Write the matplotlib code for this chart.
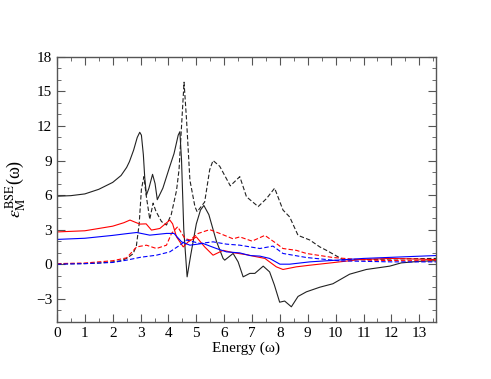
import matplotlib
matplotlib.use("Agg")
import matplotlib.pyplot as plt
from matplotlib.ticker import MultipleLocator

plt.rcParams['font.family'] = ['Liberation Serif', 'DejaVu Serif']
plt.rcParams['mathtext.fontset'] = 'stix'

# black solid: real part
x_re_k = [0, 0.5, 1, 1.5, 2, 2.3, 2.5, 2.6, 2.75, 2.88, 2.97, 3.03, 3.1, 3.15, 3.21, 3.3, 3.43, 3.52, 3.6,
          3.8, 4.05, 4.2, 4.35, 4.41, 4.47, 4.55, 4.67, 4.8, 5.0, 5.15, 5.27, 5.45, 5.72, 5.96, 6.02, 6.32,
          6.5, 6.68, 6.92, 7.1, 7.4, 7.63, 7.8, 7.99, 8.17, 8.41, 8.65, 8.95, 9.43, 9.9, 10.5,
          11.1, 11.94, 12.35, 13.0, 13.6]
y_re_k = [5.9, 5.95, 6.1, 6.5, 7.1, 7.7, 8.4, 8.9, 9.9, 11.0, 11.45, 11.2, 9.5, 7.5, 6.0, 6.6, 7.8, 7.0, 5.6,
          6.6, 8.5, 9.6, 11.2, 11.5, 9.0, 3.0, -1.1, 0.8, 3.5, 4.7, 5.1, 4.3, 2.0, 0.5, 0.35, 0.93,
          0.2, -1.1, -0.8, -0.8, -0.17, -0.67, -1.8, -3.3, -3.2, -3.7, -2.8, -2.4, -2.0, -1.7, -0.87,
          -0.46, -0.17, 0.11, 0.25, 0.3]

# black dashed: imaginary part
x_im_k = [0, 1, 1.5, 2, 2.3, 2.5, 2.73, 2.85, 2.95, 3.03, 3.12, 3.2, 3.33, 3.45, 3.55, 3.75,
          3.93, 4.1, 4.29, 4.38, 4.47, 4.56, 4.65, 4.77, 4.95, 5.03, 5.3, 5.48, 5.6, 5.84, 6.22,
          6.56, 6.8, 7.22, 7.52, 7.81, 8.11, 8.35, 8.65, 9.07, 9.43, 9.67, 10.26, 11.0, 12.0, 13.6]
y_im_k = [0.02, 0.05, 0.1, 0.2, 0.3, 0.5, 0.9, 1.6, 3.5, 6.5, 7.6, 6.0, 3.9, 5.3, 4.6, 3.7,
          3.4, 4.3, 6.4, 8.2, 12.0, 15.8, 12.5, 7.3, 5.0, 4.55, 5.4, 8.2, 9.0, 8.5, 6.8,
          7.6, 5.85, 5.0, 5.7, 6.6, 4.7, 4.1, 2.5, 2.1, 1.5, 1.2, 0.4, 0.4, 0.45, 0.5]

# red solid
x_re_r = [0, 1, 2, 2.4, 2.62, 2.97, 3.2, 3.39, 3.69, 4.05, 4.15, 4.29, 4.53, 4.71, 5.0, 5.3,
          5.6, 5.96, 6.32, 6.86, 7.04, 7.46, 7.87, 8.11, 8.59, 9.07, 9.78, 10.86, 12.0, 13.6]
y_re_r = [2.8, 2.9, 3.3, 3.6, 3.83, 3.48, 3.5, 2.96, 3.1, 3.83, 3.5, 2.37, 1.5, 1.94, 2.37, 1.5,
          0.78, 1.2, 1.0, 0.8, 0.7, 0.5, -0.23, -0.46, -0.23, -0.09, 0.1, 0.4, 0.5, 0.4]

# red dashed
x_im_r = [0, 1, 2, 2.5, 2.86, 3.21, 3.57, 3.93, 4.11, 4.33, 4.59, 4.77, 5.07, 5.48, 5.84, 6.32,
          6.56, 7.0, 7.46, 7.87, 8.11, 8.59, 8.95, 9.9, 11.1, 12.5, 13.6]
y_im_r = [0.05, 0.1, 0.3, 0.55, 1.5, 1.65, 1.36, 1.65, 2.67, 3.25, 2.23, 2.1, 2.67, 3.0, 2.67, 2.2,
          2.37, 2.0, 2.5, 1.8, 1.36, 1.2, 0.93, 0.58, 0.35, 0.3, 0.3]

# blue solid
x_re_b = [0, 1, 2, 2.5, 2.86, 3.33, 3.93, 4.2, 4.47, 4.77, 5.24, 5.72, 6.08, 6.56, 6.92,
          7.28, 7.63, 8.0, 8.35, 9.07, 11.0, 13.6]
y_re_b = [2.15, 2.25, 2.5, 2.65, 2.75, 2.52, 2.67, 2.67, 1.94, 1.65, 1.8, 1.36, 1.07, 0.98, 0.75,
          0.7, 0.5, 0.0, 0.0, 0.2, 0.5, 0.75]

# blue dashed
x_im_b = [0, 1, 2, 2.5, 3.0, 3.57, 4.05, 4.41, 4.65, 5.13, 5.6, 6.08, 6.56, 7.28, 7.75, 8.11,
          8.95, 10.14, 12.0, 13.6]
y_im_b = [0.0, 0.05, 0.15, 0.35, 0.6, 0.78, 1.07, 1.65, 2.1, 1.8, 1.94, 1.74, 1.65, 1.36, 1.57,
          0.93, 0.58, 0.29, 0.2, 0.2]

fig = plt.figure(figsize=(4.91, 3.79), dpi=100)
ax = fig.add_axes([0.116, 0.151, 0.772, 0.699])

lw = 0.8
ax.plot(x_re_k, y_re_k, color='#222222', lw=lw)
ax.plot(x_im_k, y_im_k, color='#222222', lw=lw, dashes=(4, 2))
ax.plot(x_re_r, y_re_r, color='red', lw=lw)
ax.plot(x_im_r, y_im_r, color='red', lw=lw, dashes=(4, 2))
ax.plot(x_re_b, y_re_b, color='blue', lw=lw)
ax.plot(x_im_b, y_im_b, color='blue', lw=lw, dashes=(4, 2))

ax.set_xlim(0, 13.6)
ax.set_ylim(-5, 18)
ax.xaxis.set_major_locator(MultipleLocator(1))
ax.xaxis.set_minor_locator(MultipleLocator(0.5))
ax.yaxis.set_major_locator(MultipleLocator(3))
ax.yaxis.set_minor_locator(MultipleLocator(1))
ax.tick_params(which='both', direction='in', top=True, right=True, color='#555555', labelsize=11)
ax.tick_params(which='major', length=6)
ax.tick_params(which='minor', length=3)
for s in ax.spines.values():
    s.set_color('#555555')
    s.set_linewidth(1.0)

ax.set_xlabel('Energy (ω)', fontsize=11, labelpad=1)
ax.set_ylabel(r'$\epsilon_{\rm M}^{\rm BSE}$(ω)', fontsize=13, labelpad=6)

fig.savefig('out.png', dpi=100)
